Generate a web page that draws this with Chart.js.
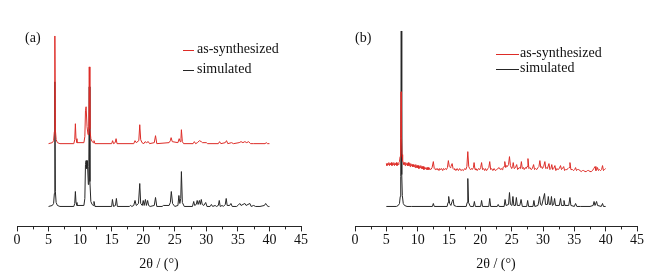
<!DOCTYPE html>
<html>
<head>
<meta charset="utf-8">
<script src="https://cdn.jsdelivr.net/npm/chart.js@4/dist/chart.umd.min.js"></script>
<style>
  html, body { margin: 0; padding: 0; background: #fff; }
  #wrap { position: relative; width: 659px; height: 277px; }
  canvas { position: absolute; top: 0; }
  #chartA { left: 0; }
  #chartB { left: 329px; }
</style>
</head>
<body>
<div id="wrap">
  <canvas id="chartA" width="329" height="277"></canvas>
  <canvas id="chartB" width="330" height="277"></canvas>
</div>
<script>
// axis ticks
const xTicks = [0, 5, 10, 15, 20, 25, 30, 35, 40, 45];
const xMinorTicks = [2.5, 7.5, 12.5, 17.5, 22.5, 27.5, 32.5, 37.5, 42.5];
const seriesNames = ["as-synthesized", "simulated"];
const panelLabels = ["(a)", "(b)"];

// panel (a) - [2theta, intensity(offset)]
const synthA = [
  [5.0,83],[5.6,84],[5.8,86],[5.92,95],[6.0,191],[6.08,97],[6.2,87],[6.4,84],[6.8,83],
  [9.0,83],[9.15,87],[9.25,103],[9.35,88],[9.5,84],
  [10.6,84],[10.75,90],[10.85,116],[10.95,120],[11.1,100],[11.25,92],[11.38,100],[11.45,160],[11.55,98],[11.7,88],[11.9,85],
  [12.1,84],[12.2,86],[12.35,83],
  [15.0,83],[15.15,86],[15.3,83],[15.55,84],[15.7,88],[15.85,83],
  [18.5,83],[18.7,86],[18.9,84],[19.3,86],[19.45,102],[19.6,87],[19.8,84],[20.1,83],[20.3,85],[20.5,84],[20.8,85],[21.0,83],
  [21.75,84],[21.95,91],[22.15,83],
  [24.1,84],[24.3,86],[24.42,89],[24.6,85],[25.5,84],[25.7,88],[25.85,85],[25.98,88],[26.05,97],[26.2,85],[26.4,83],
  [27.9,83],[28.1,85],[28.3,83],[28.6,84],[28.9,86],[29.2,85],[29.4,84],[30.0,84],[30.2,83],
  [31.9,83],[32.1,85],[32.3,83],[33.0,84],[33.2,86],[33.4,83],[34.0,84],[34.3,83],
  [35.2,84],[35.5,85],[35.8,84],[36.1,85],[36.4,84],[36.7,85],[37.0,83],[37.5,83],
  [39.3,83],[39.5,84],[39.7,83],[40.0,83]
];
const simA = [
  [5.0,20],[5.6,21],[5.8,23],[5.92,33],[6.0,145],[6.08,35],[6.2,24],[6.4,21],[6.8,20],
  [9.0,20],[9.15,23],[9.25,35],[9.35,24],[9.5,21],
  [10.6,21],[10.75,28],[10.85,62],[10.95,66],[11.05,58],[11.15,66],[11.3,42],[11.38,60],[11.45,140],[11.55,45],[11.7,25],[11.9,22],
  [12.1,21],[12.2,25],[12.35,20],
  [15.0,20],[15.12,27],[15.3,20],[15.6,21],[15.75,28],[15.9,20],
  [17.8,20],[18.0,21],[18.2,20],[18.5,21],[18.7,26],[18.9,21],[19.25,23],[19.45,43],[19.6,23],[19.85,21],
  [20.0,26],[20.15,21],[20.35,27],[20.5,21],[20.7,26],[20.85,21],[21.1,20],
  [21.75,21],[21.95,29],[22.15,20],
  [23.0,20],[23.2,21],[24.1,21],[24.3,24],[24.45,35],[24.65,23],[25.0,20],[25.5,21],[25.65,31],[25.8,23],[25.95,28],[26.05,55],[26.2,24],[26.5,20],
  [27.8,20],[28.0,25],[28.15,21],[28.4,22],[28.55,26],[28.7,22],[28.9,26],[29.05,22],[29.2,27],[29.35,22],[29.6,21],[29.9,24],[30.1,20],
  [30.6,20],[30.8,22],[31.0,20],[31.4,21],[31.6,20],[31.9,21],[32.05,26],[32.2,20],[32.5,21],[32.7,20],
  [33.0,22],[33.15,28],[33.3,21],[33.7,21],[33.9,23],[34.1,20],
  [34.8,20],[35.0,21],[35.3,23],[35.5,21],[35.8,22],[36.1,23],[36.3,21],[36.6,22],[36.9,23],[37.1,20],[37.5,21],[37.8,20],
  [38.5,20],[39.2,21],[39.4,23],[39.6,21],[39.8,20],[40.0,20]
];

// panel (b)
const synthB = [
  [5.0,63],[5.1,61],[5.2,63],[5.3,62],[5.4,64],[5.5,61],[5.6,63],[5.7,62],[5.8,64],[5.9,61],[6.0,63],[6.1,62],
  [6.2,64],[6.3,61],[6.4,63],[6.5,62],[6.6,64],[6.7,61],[6.8,63],[6.9,62],[7.0,64],[7.1,65],[7.2,70],[7.28,88],
  [7.35,135],[7.42,90],[7.5,72],[7.6,66],[7.7,64],[7.8,62],[7.9,64],[8.0,61],[8.1,64],[8.2,62],[8.3,63],[8.4,61],
  [8.5,64],[8.6,61],[8.7,63],[8.8,60],[8.9,63],[9.0,61],[9.1,62],[9.2,60],[9.3,62],[9.4,60],[9.5,61],[9.6,59],
  [9.7,62],[9.8,59],[9.9,61],[10.0,59],[10.1,61],[10.2,58],[10.3,60],[10.4,59],[10.5,61],[10.6,58],[10.7,60],
  [10.8,58],[10.9,60],[11.0,57],[11.1,59],[11.2,58],[11.3,59],[11.4,57],[11.5,59],[11.6,57],[11.7,59],[11.8,57],
  [11.9,58],[12.1,57],[12.3,59],[12.5,65],[12.65,58],[12.8,57],[12.9,58],[13.1,57],[13.2,58],[13.4,56],[13.5,58],
  [13.7,57],[13.8,58],[14.0,56],[14.1,58],[14.3,57],[14.4,58],[14.6,57],[14.75,59],[14.9,66],[15.05,60],[15.2,59],
  [15.3,60],[15.5,63],[15.65,58],[15.8,57],[15.9,58],[16.1,56],[16.3,58],[16.5,56],[16.7,58],[16.9,56],[17.1,57],
  [17.3,56],[17.5,58],[17.7,57],[17.85,60],[18.0,75],[18.15,60],[18.3,58],[18.4,57],[18.6,58],[18.7,57],[18.9,59],
  [19.0,64],[19.15,57],[19.3,58],[19.5,56],[19.7,58],[19.9,57],[20.05,59],[20.2,64],[20.35,57],[20.5,58],[20.7,56],
  [20.8,58],[21.0,56],[21.2,58],[21.35,59],[21.5,65],[21.65,57],[21.8,58],[22.0,56],[22.2,58],[22.4,56],[22.6,57],
  [22.8,58],[23.0,59],[23.2,57],[23.3,58],[23.5,57],[23.6,59],[23.8,60],[23.9,65],[24.05,59],[24.2,61],[24.3,60],
  [24.5,62],[24.65,70],[24.8,61],[25.0,58],[25.15,60],[25.25,64],[25.4,58],[25.6,59],[25.8,62],[25.95,57],[26.2,59],
  [26.4,58],[26.55,65],[26.7,58],[26.9,59],[27.0,57],[27.2,59],[27.3,58],[27.45,60],[27.6,68],[27.75,58],[27.9,59],
  [28.1,57],[28.3,58],[28.5,62],[28.65,57],[28.8,58],[29.0,57],[29.2,59],[29.35,60],[29.5,66],[29.65,59],[29.8,60],
  [29.9,58],[30.1,60],[30.3,65],[30.45,58],[30.6,59],[30.7,58],[30.95,63],[31.1,57],[31.25,58],[31.4,62],[31.55,57],
  [31.7,58],[31.9,61],[32.05,56],[32.2,58],[32.4,57],[32.6,58],[32.8,61],[32.95,57],[33.1,58],[33.3,60],[33.45,56],
  [33.6,57],[33.8,57],[34.0,58],[34.15,59],[34.3,64],[34.45,57],[34.7,57],[34.9,56],[35.05,57],[35.2,59],[35.35,56],
  [35.5,57],[35.7,57],[35.9,56],[36.1,55],[36.3,56],[36.5,56],[36.7,55],[36.9,55],[37.1,56],[37.3,56],[37.5,55],
  [37.7,55],[37.9,56],[38.1,58],[38.3,60],[38.45,56],[38.6,57],[38.7,59],[38.85,56],[39.0,57],[39.2,56],[39.35,57],
  [39.5,61],[39.65,56],[39.8,57],[40.0,58]
];
const simB = [
  [5.0,20],[6.6,20],[6.9,21],[7.1,23],[7.22,30],[7.3,50],[7.38,196],[7.46,52],[7.55,31],[7.7,23],[7.9,21],[8.3,20],[9.0,20],
  [12.35,20],[12.5,23],[12.65,20],
  [14.7,20],[14.85,24],[14.95,30],[15.1,23],[15.3,21],[15.5,25],[15.65,27],[15.8,21],[16.2,20],
  [17.75,20],[17.9,24],[18.0,48],[18.12,24],[18.4,20],
  [18.9,20],[19.05,25],[19.2,20],[20.05,20],[20.2,26],[20.35,20],[21.35,20],[21.5,28],[21.65,20],
  [22.7,20],[22.85,22],[23.0,20],[23.8,20],[23.95,27],[24.1,21],[24.5,22],[24.65,34],[24.8,22],[25.05,21],
  [25.2,30],[25.35,21],[25.6,21],[25.75,29],[25.9,21],[26.3,21],[26.5,27],[26.7,20],[27.4,20],[27.55,26],[27.7,20],
  [28.4,20],[28.55,26],[28.7,20],[29.2,21],[29.45,30],[29.6,22],[29.8,21],[30.25,33],[30.4,22],[30.7,22],[30.85,30],
  [31.0,22],[31.2,22],[31.35,30],[31.5,21],[31.7,22],[31.85,28],[32.0,21],[32.6,21],[32.8,28],[32.95,21],[33.2,21],
  [33.35,26],[33.5,21],[34.1,21],[34.3,29],[34.45,21],[35.0,20],[35.2,23],[35.4,20],[36.0,20],[37.5,20],[38.0,21],
  [38.15,25],[38.3,21],[38.55,25],[38.7,21],[39.3,20],[39.5,23],[39.65,20],[40.0,20]
];

const RED = "#dd2c27";
const BLACK = "#262626";
const FONT = "'Liberation Serif', 'Times New Roman', serif";

// minor ticks + panel label + legend
const decorPlugin = {
  id: "decor",
  afterDraw(chart, args, opts) {
    const ctx = chart.ctx;
    const xs = chart.scales.x;
    const y0 = chart.chartArea.bottom;
    ctx.save();
    ctx.strokeStyle = BLACK;
    ctx.lineWidth = 1;
    xMinorTicks.forEach((v) => {
      const px = Math.round(xs.getPixelForValue(v)) + 0.5;
      ctx.beginPath();
      ctx.moveTo(px, y0);
      ctx.lineTo(px, y0 + 3);
      ctx.stroke();
    });

    ctx.font = "14px " + FONT;
    ctx.fillStyle = "#111";
    ctx.textBaseline = "middle";
    ctx.fillText(opts.label, opts.labelX, 38);

    const colors = [RED, BLACK];
    seriesNames.forEach((name, i) => {
      const ly = opts.legendY[i];
      ctx.strokeStyle = colors[i];
      ctx.beginPath();
      ctx.moveTo(opts.lineX0, ly + 0.5);
      ctx.lineTo(opts.lineX1, ly + 0.5);
      ctx.stroke();
      ctx.fillStyle = "#111";
      ctx.fillText(name, opts.textX, ly - 1);
    });
    ctx.restore();
  }
};

function makeChart(id, synth, sim, padding, decor) {
  return new Chart(document.getElementById(id), {
    type: "line",
    data: {
      datasets: [
        {
          label: seriesNames[0],
          data: synth.map(([x, y]) => ({ x, y })),
          borderColor: RED,
          borderWidth: 1,
          pointRadius: 0,
          tension: 0,
        },
        {
          label: seriesNames[1],
          data: sim.map(([x, y]) => ({ x, y })),
          borderColor: BLACK,
          borderWidth: 1,
          pointRadius: 0,
          tension: 0,
        },
      ],
    },
    plugins: [decorPlugin],
    options: {
      responsive: false,
      animation: false,
      layout: { padding: padding },
      plugins: {
        legend: { display: false },
        tooltip: { enabled: false },
        decor: decor,
      },
      scales: {
        x: {
          type: "linear",
          min: 0,
          max: 45,
          afterBuildTicks: (axis) => {
            axis.ticks = xTicks.map((v) => ({ value: v }));
          },
          ticks: {
            color: "#111",
            padding: 1,
            maxRotation: 0,
            font: { family: FONT, size: 14 },
          },
          grid: {
            drawOnChartArea: false,
            drawTicks: true,
            tickLength: 5,
            color: BLACK,
          },
          border: { display: true, color: BLACK, width: 1 },
          title: {
            display: true,
            text: "2θ / (°)",
            color: "#111",
            padding: { top: 6, bottom: 2 },
            font: { family: FONT, size: 14 },
          },
        },
        y: {
          display: false,
          min: 0,
          max: 200,
        },
      },
    },
  });
}

makeChart("chartA", synthA, simA,
  { left: 17, right: 28, top: 27, bottom: 2 },
  { label: panelLabels[0], labelX: 25, legendY: [50, 70], lineX0: 183, lineX1: 194, textX: 197 });

makeChart("chartB", synthB, simB,
  { left: 26, right: 22, top: 27, bottom: 2 },
  { label: panelLabels[1], labelX: 26, legendY: [54, 69], lineX0: 167, lineX1: 190, textX: 191 });
</script>
</body>
</html>
